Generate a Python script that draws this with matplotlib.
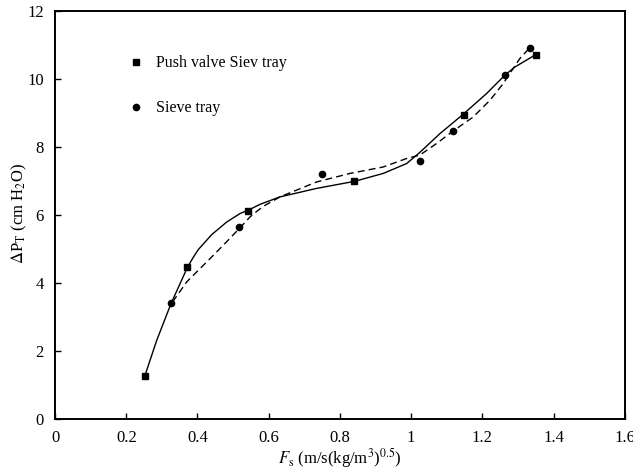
import matplotlib
matplotlib.use("Agg")
import matplotlib.pyplot as plt

plt.rcParams.update({
    "font.family": "serif",
    "font.serif": ["Liberation Serif", "DejaVu Serif"],
    "mathtext.fontset": "stix",
    "font.size": 12,
})

# measured points
push_x = [0.252, 0.371, 0.543, 0.839, 1.148, 1.350]
push_y = [1.27, 4.47, 6.13, 7.00, 8.96, 10.70]

sieve_x = [0.326, 0.516, 0.749, 1.025, 1.117, 1.263, 1.333]
sieve_y = [3.41, 5.66, 7.20, 7.59, 8.47, 10.12, 10.91]

# fitted curves
push_fit_x = [0.2526, 0.2855, 0.3256, 0.3714, 0.3880, 0.4022, 0.4399, 0.4820,
              0.5193, 0.5426, 0.5754, 0.6316, 0.7346, 0.8421, 0.9215, 0.9872,
              1.0246, 1.0807, 1.1461, 1.2118, 1.2632, 1.2912, 1.3474]
push_fit_y = [1.29, 2.32, 3.40, 4.46, 4.76, 4.99, 5.43, 5.80,
              6.05, 6.15, 6.32, 6.54, 6.79, 7.00, 7.23, 7.52,
              7.85, 8.40, 8.97, 9.58, 10.12, 10.36, 10.71]

sieve_fit_x = [0.330, 0.3697, 0.4070, 0.4491, 0.4865, 0.5193, 0.5474, 0.5707,
               0.5895, 0.6316, 0.7346, 0.8281, 0.9215, 0.9872, 1.0246, 1.0714,
               1.1181, 1.1742, 1.2211, 1.2584, 1.2772, 1.3053, 1.3333]
sieve_fit_y = [3.45, 4.04, 4.43, 4.87, 5.27, 5.63, 5.95, 6.15,
               6.29, 6.54, 6.98, 7.23, 7.42, 7.67, 7.77, 8.11,
               8.48, 8.89, 9.38, 9.87, 10.17, 10.61, 10.93]

fig = plt.figure(figsize=(6.33, 4.71), dpi=100)
ax = fig.add_axes([0.087, 0.110, 0.900, 0.866])

ax.plot(push_fit_x, push_fit_y, color="black", lw=1.0, solid_joinstyle="round")
ax.plot(sieve_fit_x, sieve_fit_y, color="black", lw=1.0, ls=(0, (5, 3)))
ax.plot(push_x, push_y, "s", color="black", ms=5, label="Push valve Siev tray")
ax.plot(sieve_x, sieve_y, "o", color="black", ms=4.5, label="Sieve tray")

ax.set_xlim(0, 1.6)
ax.set_ylim(0, 12)
ax.set_xticks([0, 0.2, 0.4, 0.6, 0.8, 1.0, 1.2, 1.4, 1.6])
ax.set_xticklabels(["0", "0.2", "0.4", "0.6", "0.8", "1", "1.2", "1.4", "1.6"])
ax.set_yticks(range(0, 13, 2))
ax.tick_params(direction="in", length=4, width=1, pad=8)
for s in ax.spines.values():
    s.set_linewidth(1.4)

ax.set_xlabel(r"$F_\mathrm{s}$ (m/s(kg/m$^3$)$^{0.5}$)", labelpad=0)
ax.set_ylabel(r"$\Delta$P$_\mathrm{T}$ (cm H$_2$O)")
ax.yaxis.set_label_coords(-0.045, 0.505)

ax.legend(loc="upper left", bbox_to_anchor=(0.102, 0.927), frameon=False,
          handlelength=1.0, handletextpad=0.8, labelspacing=1.8, numpoints=1,
          fontsize=11.5)

fig.savefig("out.png", dpi=100, facecolor="white")
